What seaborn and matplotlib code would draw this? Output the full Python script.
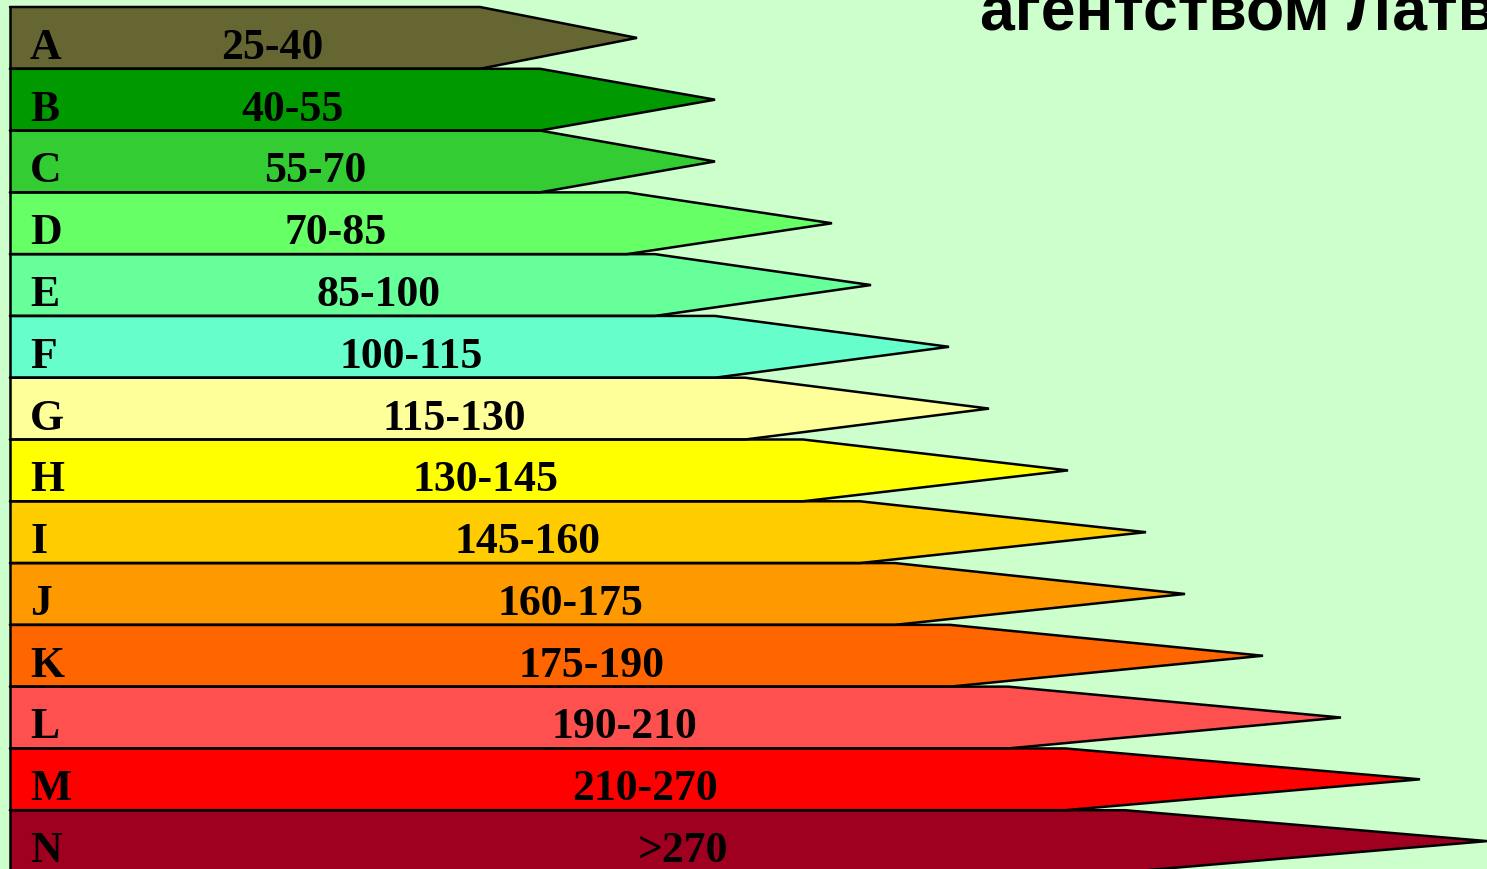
import numpy as np
import pandas as pd
import matplotlib
matplotlib.use("Agg")
import matplotlib.pyplot as plt
import seaborn as sns

# -----------------------
# data
# -----------------------
grades = ["A", "B", "C", "D", "E", "F", "G", "H", "I", "J", "K", "L", "M", "N"]
ranges = ["25-40", "40-55", "55-70", "70-85", "85-100", "100-115", "115-130",
          "130-145", "145-160", "160-175", "175-190", "190-210", "210-270", ">270"]
# arrow body length and tip length (drawing units)
body_len = [470, 530, 530, 617, 645, 705, 735, 793, 850, 885, 940, 998, 1055, 1115]
tip_len = [627, 705, 705, 822, 861, 939, 979, 1058, 1136, 1175, 1253, 1331, 1410, 1477]
colors = ["#666633", "#009900", "#33CC33", "#66FF66", "#66FF99", "#66FFCC", "#FFFF99",
          "#FFFF00", "#FFCC00", "#FF9900", "#FF6600", "#FF5050", "#FF0000", "#9F0020"]
title = "агентством Латвии"

# label layout (centre of range text, drawing units)
label_x = [262, 283, 305, 326, 369, 401, 444, 475, 518, 560, 582, 614, 635, 673]

BG = "#CCFFCC"

df = pd.DataFrame({"grade": grades, "body": body_len, "tip": tip_len, "range": ranges})

sns.set_theme(style="white")
plt.rcParams["font.family"] = ["Liberation Serif", "DejaVu Serif"]

fig = plt.figure(figsize=(14.87, 8.69), dpi=100, facecolor=BG)
ax = fig.add_axes([0, 0, 1, 1])
ax.set_facecolor(BG)

sns.barplot(data=df, y="grade", x="body", hue="grade", palette=colors,
            saturation=1, orient="h", width=1.0, linewidth=0, legend=False,
            ax=ax, zorder=1)

row_px = 61.8
ax.set_xlim(-10, 1477)
ax.set_ylim(13.5 - 3 / row_px, -0.5 - 7 / row_px)
ax.axis("off")

for i, row in df.iterrows():
    top, bot = i - 0.5, i + 0.5
    b, t = row["body"], row["tip"]
    ax.fill([b - 1, t, b - 1], [top, i, bot], color=colors[i], lw=0, zorder=2 + i)
    ax.plot([0, b, t, b, 0], [top, top, i, bot, bot], color="black", lw=1.8,
            zorder=2.5 + i, solid_joinstyle="miter")
    base = bot - 10 / row_px
    ax.text(20, base, row["grade"], fontsize=31.5, fontweight="bold", color="black",
            va="baseline", ha="left", zorder=30)
    ax.text(label_x[i], base, row["range"], fontsize=31.5, fontweight="bold",
            color="black", va="baseline", ha="center", zorder=30)

ax.plot([0, 0], [-0.5, 13.6], color="black", lw=1.8, zorder=40)

fig.text(980 / 1487, 1 - 30 / 869, title, fontsize=45, fontweight="bold",
         color="black", family=["Liberation Sans", "DejaVu Sans"],
         va="baseline", ha="left")

fig.savefig("out.png", dpi=100, facecolor=BG)
